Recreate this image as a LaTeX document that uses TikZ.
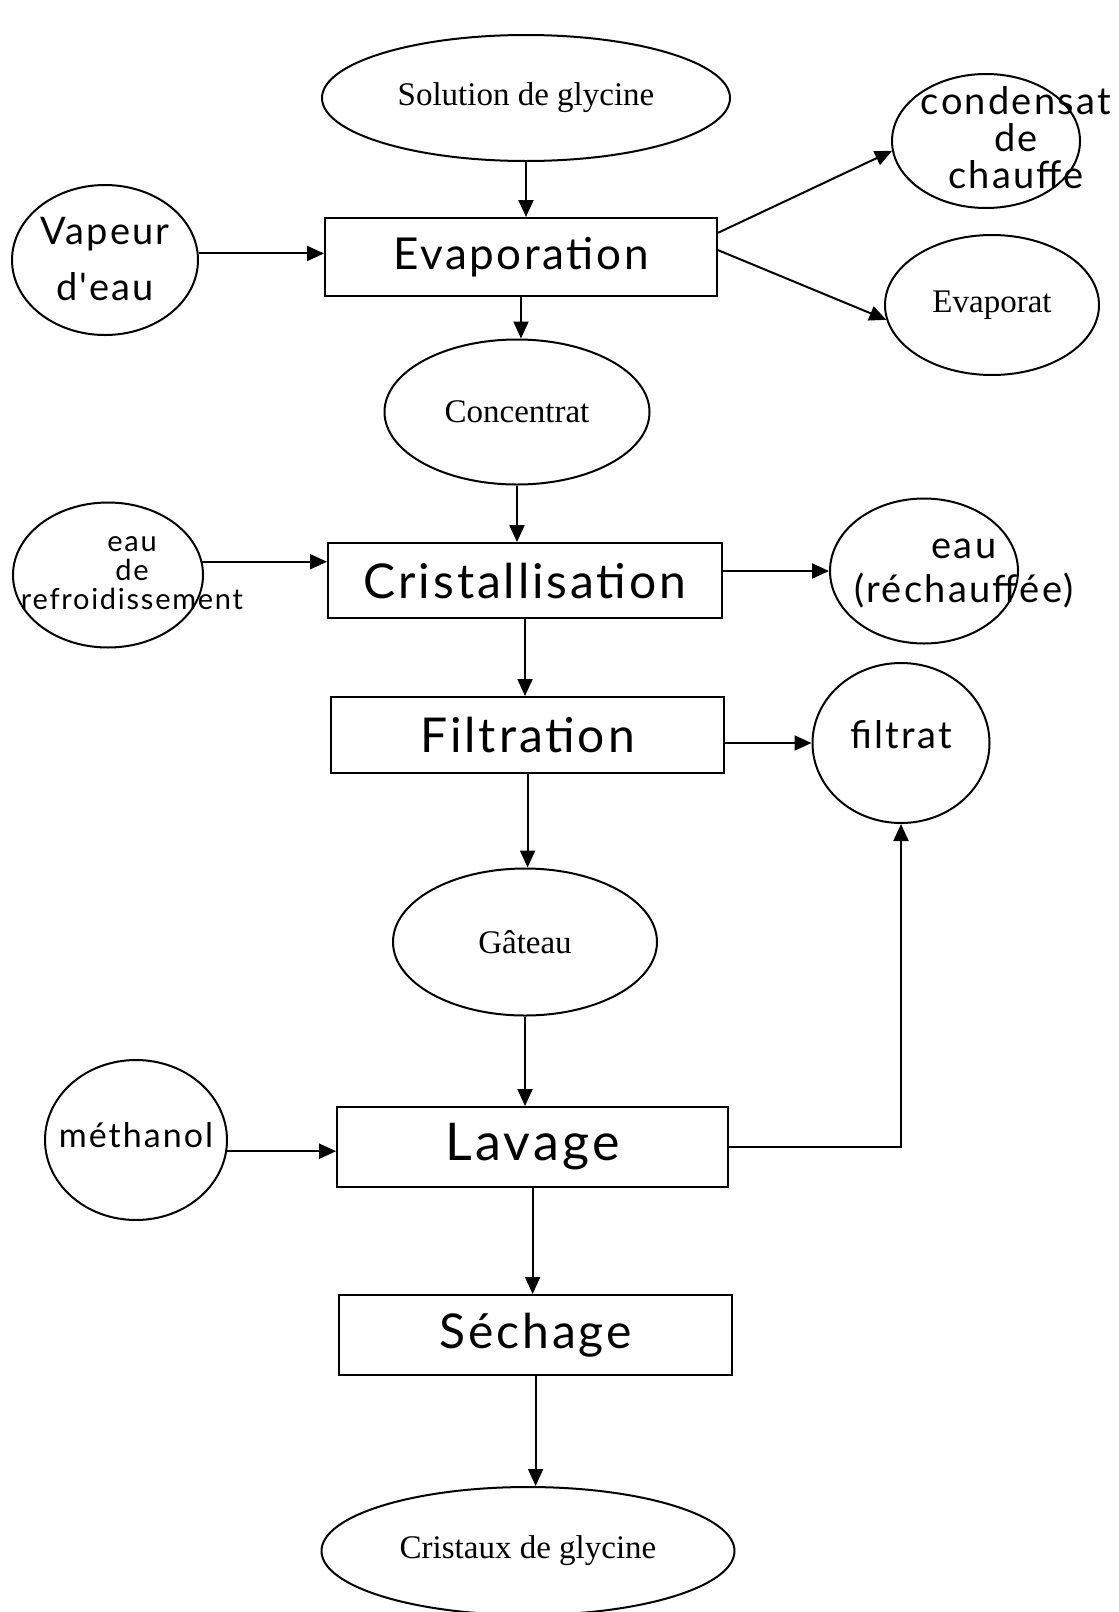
\documentclass[tikz,border=0pt]{standalone}
\usepackage{fontspec}
\setmainfont{Liberation Serif}
\newfontfamily\handfont{Lato}[LetterSpace=6.0]
\usetikzlibrary{shapes.geometric,arrows.meta}
\newlength{\du}
\setlength{\du}{10\unitlength}
% text that may run over the border of its bubble
\newcommand{\hw}[2][0pt]{\makebox[0pt]{\hspace*{#1}\hspace*{#1}\smash{\raisebox{-0.25em}{\begin{tabular}{@{}c@{}}#2\end{tabular}}}}}

\begin{document}
\begin{tikzpicture}[
  etape/.style={draw=dialinecolor, rectangle, inner sep=0pt, font=\handfont\fontsize{24}{28}\selectfont},
  produit/.style={draw=dialinecolor, ellipse, inner sep=0pt, font=\fontsize{16.5}{19}\selectfont},
  manuscrit/.style={produit, font=\handfont\fontsize{19}{22}\selectfont},
  fleche/.style={draw=dialinecolor, -{Triangle[length=8.5pt,width=7.5pt]}}
]
\pgftransformxscale{1.000000}
\pgftransformyscale{-1.000000}
\definecolor{dialinecolor}{rgb}{0.000000, 0.000000, 0.000000}
\pgfsetstrokecolor{dialinecolor}
\pgfsetlinewidth{0.100000\du}
\useasboundingbox (0.000000\du,0.000000\du) rectangle (55.950000\du,80.600000\du);
% column of steps
\node[produit, minimum width=20.400000\du, minimum height=6.300000\du] (sol) at (26.300000\du,4.900000\du){Solution de glycine};
\node[etape, minimum width=19.600000\du, minimum height=3.900000\du, font=\handfont\fontsize{22}{26}\selectfont] (evap) at (26.050000\du,12.850000\du){Evaporation};
\node[produit, minimum width=13.250000\du, minimum height=7.250000\du] (conc) at (25.850000\du,20.600000\du){Concentrat};
\node[etape, minimum width=19.700000\du, minimum height=3.750000\du] (crist) at (26.250000\du,29.030000\du){Cristallisation};
\node[etape, minimum width=19.650000\du, minimum height=3.800000\du] (filt) at (26.380000\du,36.750000\du){Filtration};
\node[produit, minimum width=13.200000\du, minimum height=7.350000\du] (gat) at (26.250000\du,47.100000\du){Gâteau};
\node[etape, minimum width=19.550000\du, minimum height=4.000000\du, font=\handfont\fontsize{26}{30}\selectfont] (lav) at (26.630000\du,57.350000\du){Lavage};
\node[etape, minimum width=19.650000\du, minimum height=4.000000\du] (sech) at (26.780000\du,66.750000\du){Séchage};
\node[produit, minimum width=20.650000\du, minimum height=6.400000\du] (crx) at (26.400000\du,77.550000\du){Cristaux de glycine};
% inputs and outputs
\node[manuscrit, minimum width=9.300000\du, minimum height=7.500000\du, font=\handfont\fontsize{19}{28}\selectfont] (vap) at (5.250000\du,13.000000\du){\hw{Vapeur\\d'eau}};
\node[manuscrit, minimum width=9.400000\du, minimum height=6.700000\du, font=\handfont\fontsize{19}{15}\selectfont] (cond) at (49.300000\du,7.050000\du){\hw[15pt]{condensat\\de\\chauffe}};
\node[produit, minimum width=10.700000\du, minimum height=7.000000\du] (evapt) at (49.600000\du,15.250000\du){Evaporat};
\node[manuscrit, minimum width=9.500000\du, minimum height=7.250000\du, font=\handfont\fontsize{14.5}{13}\selectfont] (refr) at (5.400000\du,28.750000\du){\hw[12pt]{eau\\de\\refroidissement}};
\node[manuscrit, minimum width=9.400000\du, minimum height=7.250000\du] (rech) at (46.200000\du,28.550000\du){\hw[20pt]{eau\\(réchauffée)}};
\node[manuscrit, minimum width=8.850000\du, minimum height=8.000000\du] (filtrat) at (45.050000\du,37.150000\du){\hw{filtrat\\[4pt]}};
\node[manuscrit, minimum width=9.100000\du, minimum height=8.000000\du, font=\handfont\fontsize{17}{20}\selectfont] (meth) at (6.800000\du,57.000000\du){\hw{méthanol}};
% main flow
\foreach \a/\b in {sol/evap,evap/conc,conc/crist,crist/filt,filt/gat,gat/lav,lav/sech,sech/crx}
  \draw[fleche] (\a) -- (\a |- \b.north);
\draw[fleche] (vap.4) -- (vap.4 -| evap.west);
\draw[fleche] (evap.7) -- (cond.186);
\draw[fleche] (evap.2) -- (evapt.188);
\draw[fleche] (refr.8) -- (refr.8 -| crist.west);
\draw[fleche] (crist.east |- rech) -- (rech);
\draw[fleche] (filt.east |- filtrat) -- (filtrat);
\draw[fleche] (meth.-7) -- (meth.-7 -| lav.west);
\draw[fleche] (lav.east) -| (filtrat);
\end{tikzpicture}
\end{document}
